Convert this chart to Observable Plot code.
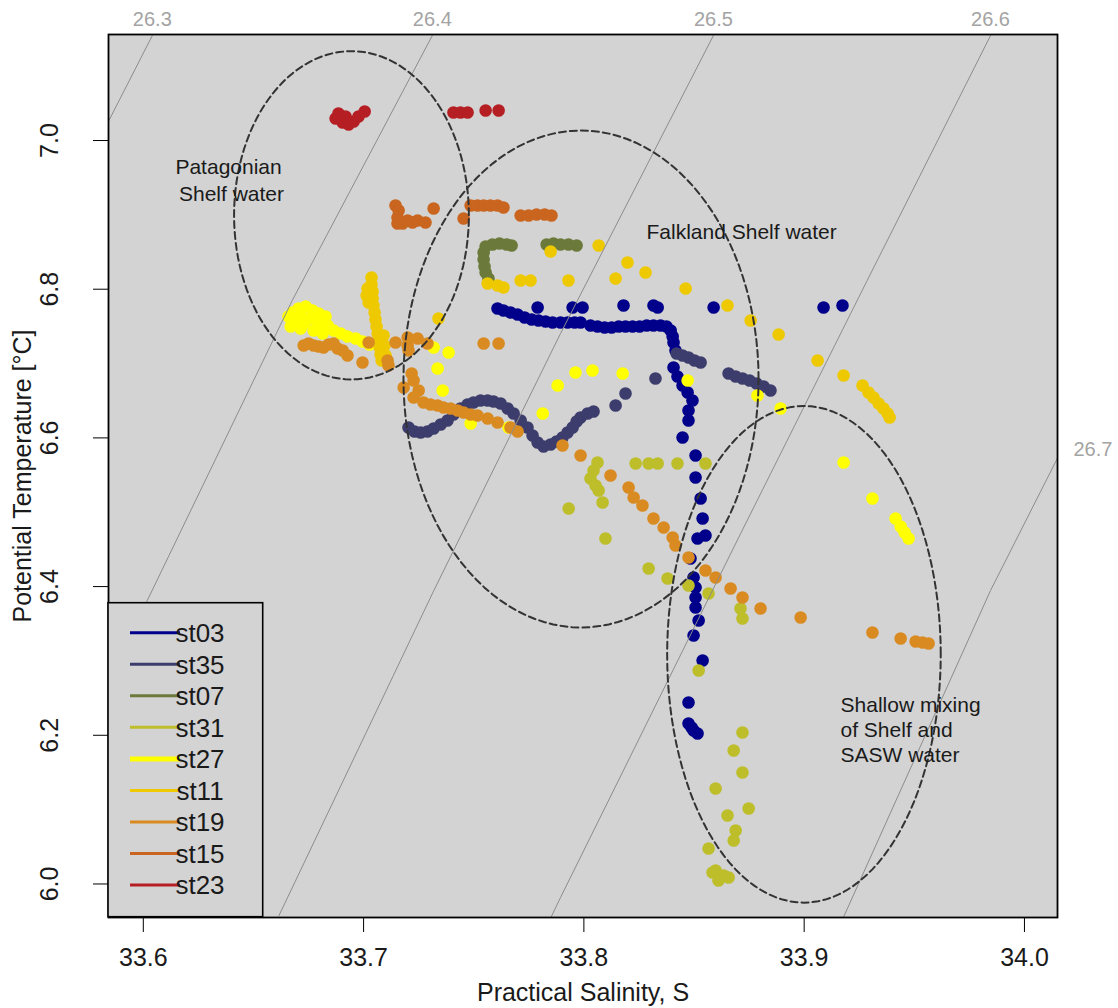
<!DOCTYPE html>
<html><head><meta charset="utf-8">
<script src="https://cdn.jsdelivr.net/npm/d3@7"></script>
<script src="https://cdn.jsdelivr.net/npm/@observablehq/plot@0.6"></script>
<style>
html,body{margin:0;padding:0;background:#fff;}
#chart{width:1118px;height:1008px;}
svg{font-family:"Liberation Sans",Arial,sans-serif;}
</style></head><body><div id="chart"></div>
<script>
// ---- station data (Practical Salinity S, Potential Temperature T) ----
const st03_S = [33.7608,33.7635,33.7667,33.7699,33.7731,33.7763,33.7794,33.7826,33.7858,33.7894,33.7926,33.7958,33.7985,33.8030,33.8062,33.8094,33.8126,33.8158,33.8189,33.8221,33.8253,33.8285,33.8316,33.8348,33.8375,33.8394,33.8403,33.8407,33.8416,33.8407,33.8425,33.8448,33.8471,33.8493,33.8475,33.8475,33.8448,33.8507,33.8507,33.8530,33.8539,33.8516,33.8552,33.8484,33.8498,33.8507,33.8507,33.8507,33.8521,33.8498,33.8539,33.8475,33.8475,33.8489,33.8498,33.8516,33.7790,33.7949,33.7994,33.8180,33.8316,33.8335,33.8589,33.9088,33.9174];
const st03_T = [6.7740,6.7714,6.7687,6.7660,6.7619,6.7592,6.7579,6.7566,6.7552,6.7552,6.7552,6.7552,6.7552,6.7512,6.7498,6.7485,6.7485,6.7498,6.7498,6.7498,6.7498,6.7512,6.7512,6.7512,6.7498,6.7445,6.7364,6.7283,6.7176,6.6947,6.6826,6.6705,6.6611,6.6503,6.6369,6.6234,6.6005,6.5763,6.5467,6.5185,6.4916,6.4647,6.4687,6.4378,6.4122,6.3988,6.3853,6.3719,6.3544,6.3342,6.3006,6.2441,6.2159,6.2105,6.2065,6.2024,6.7754,6.7754,6.7754,6.7781,6.7781,6.7754,6.7754,6.7754,6.7781];

const st35_S = [33.7204,33.7231,33.7259,33.7290,33.7318,33.7350,33.7381,33.7408,33.7440,33.7472,33.7499,33.7531,33.7563,33.7590,33.7622,33.7654,33.7681,33.7713,33.7744,33.7767,33.7790,33.7817,33.7849,33.7876,33.7903,33.7926,33.7949,33.7967,33.7985,33.8017,33.8044,33.8144,33.8189,33.8325,33.8421,33.8448,33.8475,33.8502,33.8530,33.8657,33.8689,33.8720,33.8752,33.8784,33.8816,33.8847];
const st35_T = [6.6140,6.6086,6.6073,6.6086,6.6127,6.6180,6.6234,6.6315,6.6395,6.6449,6.6476,6.6503,6.6503,6.6490,6.6463,6.6395,6.6328,6.6234,6.6140,6.6032,6.5938,6.5884,6.5911,6.5952,6.6005,6.6073,6.6140,6.6221,6.6274,6.6328,6.6355,6.6436,6.6597,6.6799,6.7135,6.7108,6.7081,6.7041,6.7014,6.6866,6.6826,6.6799,6.6772,6.6732,6.6691,6.6638];

const st07_S = [33.7554,33.7585,33.7617,33.7649,33.7672,33.7545,33.7545,33.7549,33.7554,33.7567,33.7831,33.7862,33.7894,33.7930,33.7967];
const st07_T = [6.8574,6.8601,6.8615,6.8601,6.8588,6.8494,6.8399,6.8305,6.8225,6.8144,6.8601,6.8615,6.8601,6.8601,6.8588];

const st31_S = [33.8235,33.8294,33.8335,33.8425,33.8552,33.8062,33.8044,33.8030,33.8053,33.8067,33.8085,33.7931,33.8098,33.8294,33.8380,33.8475,33.8566,33.8711,33.8720,33.8521,33.8720,33.8680,33.8720,33.8598,33.8748,33.8652,33.8689,33.8680,33.8566,33.8598,33.8634,33.8657,33.8611,33.8584];
const st31_T = [6.5656,6.5656,6.5656,6.5656,6.5656,6.5669,6.5562,6.5454,6.5360,6.5293,6.5131,6.5050,6.4647,6.4243,6.4109,6.4015,6.3907,6.3705,6.3571,6.2872,6.2038,6.1796,6.1500,6.1285,6.1015,6.0921,6.0720,6.0585,6.0477,6.0182,6.0114,6.0087,6.0047,6.0155];

const st27_S = [33.6659,33.6678,33.6705,33.6737,33.6768,33.6796,33.6827,33.6691,33.6728,33.6759,33.6796,33.6837,33.6864,33.6896,33.6927,33.6964,33.6995,33.7027,33.6714,33.6714,33.6773,33.6814,33.6669,33.7318,33.7386,33.7336,33.7359,33.7486,33.7658,33.7813,33.7881,33.7962,33.8039,33.8176,33.8471,33.8788,33.8893,33.9179,33.9310,33.9415,33.9438,33.9456,33.9474];
const st27_T = [6.7633,6.7687,6.7740,6.7767,6.7714,6.7673,6.7633,6.7566,6.7539,6.7606,6.7552,6.7512,6.7445,6.7404,6.7364,6.7337,6.7297,6.7256,6.7646,6.7471,6.7445,6.7404,6.7498,6.7216,6.7149,6.6933,6.6638,6.6194,6.6140,6.6328,6.6705,6.6880,6.6907,6.6866,6.6772,6.6570,6.6395,6.5669,6.5185,6.4916,6.4808,6.4728,6.4647];

const st11_S = [33.7036,33.7036,33.7041,33.7041,33.7045,33.7050,33.7054,33.7059,33.7064,33.7068,33.7073,33.7077,33.7082,33.7018,33.7023,33.7014,33.7091,33.7095,33.7100,33.7340,33.7563,33.7608,33.7635,33.7713,33.7758,33.7849,33.7930,33.8067,33.8144,33.8198,33.8280,33.8462,33.8652,33.8757,33.8884,33.9061,33.9179,33.9265,33.9292,33.9315,33.9338,33.9360,33.9379,33.9388];
const st11_T = [6.8157,6.8063,6.7969,6.7875,6.7781,6.7687,6.7592,6.7498,6.7404,6.7310,6.7216,6.7122,6.7041,6.8009,6.7821,6.7915,6.7377,6.7243,6.7108,6.7606,6.8077,6.8050,6.8023,6.8117,6.8117,6.8507,6.8117,6.8588,6.8144,6.8359,6.8225,6.8009,6.7781,6.7579,6.7391,6.7041,6.6839,6.6705,6.6611,6.6543,6.6463,6.6395,6.6328,6.6274];

const st19_S = [33.6728,33.6750,33.6773,33.6796,33.6818,33.6841,33.6864,33.6882,33.6905,33.6927,33.6995,33.7023,33.7109,33.7113,33.7145,33.7200,33.7200,33.7204,33.7245,33.7290,33.7545,33.7613,33.7218,33.7182,33.7227,33.7250,33.7227,33.7272,33.7304,33.7336,33.7363,33.7395,33.7427,33.7454,33.7486,33.7517,33.7563,33.7608,33.7667,33.7699,33.7903,33.7985,33.8121,33.8203,33.8226,33.8266,33.8316,33.8362,33.8403,33.8416,33.8475,33.8552,33.8598,33.8666,33.8720,33.8802,33.8984,33.9310,33.9438,33.9506,33.9537,33.9565];
const st19_T = [6.7243,6.7270,6.7243,6.7229,6.7216,6.7256,6.7270,6.7202,6.7176,6.7108,6.7014,6.7283,6.7041,6.6974,6.7283,6.7350,6.7243,6.7176,6.7337,6.7270,6.7270,6.7270,6.6866,6.6678,6.6772,6.6638,6.6543,6.6476,6.6449,6.6436,6.6409,6.6395,6.6369,6.6342,6.6315,6.6301,6.6261,6.6207,6.6140,6.6086,6.5898,6.5763,6.5494,6.5333,6.5198,6.5091,6.4916,6.4795,6.4660,6.4553,6.4391,6.4217,6.4122,6.3974,6.3853,6.3705,6.3584,6.3383,6.3302,6.3262,6.3248,6.3235];

const st15_S = [33.7145,33.7159,33.7154,33.7154,33.7177,33.7200,33.7222,33.7245,33.7281,33.7318,33.7454,33.7486,33.7517,33.7545,33.7576,33.7608,33.7635,33.7713,33.7749,33.7785,33.7822,33.7853];
const st15_T = [6.9126,6.9059,6.8964,6.8884,6.8884,6.8924,6.8897,6.8924,6.8897,6.9085,6.8951,6.9126,6.9126,6.9126,6.9126,6.9126,6.9099,6.8991,6.8991,6.9005,6.9005,6.8991];

const st23_S = [33.6886,33.6873,33.6905,33.6932,33.6955,33.6977,33.7005,33.6918,33.7408,33.7440,33.7472,33.7554,33.7613];
const st23_T = [7.0363,7.0296,7.0242,7.0215,7.0256,7.0323,7.0390,7.0323,7.0377,7.0377,7.0377,7.0403,7.0403];

const stations = ["st03","st35","st07","st31","st27","st11","st19","st15","st23"];
const stationColors = ["#00008B","#3D3D6D","#6B7A3A","#BDBE2A","#FFFF00","#EEC900","#D98B22","#C9651E","#B51F24"];
const stationS = [st03_S,st35_S,st07_S,st31_S,st27_S,st11_S,st19_S,st15_S,st23_S];
const stationT = [st03_T,st35_T,st07_T,st31_T,st27_T,st11_T,st19_T,st15_T,st23_T];

// ---- isopycnals (sigma-theta), points ----
const isoSigma = ["26.3","26.4","26.5","26.6","26.7"];
const iso_S = [[33.6041,33.5844],[33.7312,33.6676,33.6018,33.5844],[33.8588,33.7894,33.7319,33.6616],[33.9846,33.9286,33.8711,33.7894,33.7851],[34.0152,33.9846,33.9179]];
const iso_T = [[7.1412,7.0269],[7.1412,6.7848,6.3813,6.2737],[7.1412,6.7404,6.3948,5.9576],[7.1412,6.8117,6.4710,5.9818,5.9553],[6.5740,6.3948,5.9556]];

// ---- water mass ellipses ----
const ellName = ["Patagonian","Falkland","Shallow"];
const ellS = [33.6945,33.7987,33.8999];
const ellT = [6.8994,6.6792,6.3089];
const ellA = [0.0533,0.0806,0.0621];
const ellB = [0.2208,0.3342,0.3340];

// ---- annotations ----
const annoText = ["Patagonian\n Shelf water","Falkland Shelf water","Shallow mixing\nof Shelf and\nSASW water"];
const annoS = [33.6387,33.8716,33.9165];
const annoT = [6.9489,6.8790,6.2085];

const xTicks = [33.6,33.7,33.8,33.9,34.0];
const yTicks = [6.0,6.2,6.4,6.6,6.8,7.0];

// ---- build tables ----
const rows = stations.flatMap((name,i)=>stationS[i].map((s,j)=>({station:name,S:s,T:stationT[i][j]})));
const isoRows = isoSigma.flatMap((sg,i)=>iso_S[i].map((s,j)=>({sigma:sg,S:s,T:iso_T[i][j]})));
const isoTop = isoSigma.slice(0,4).map((sg,i)=>({sigma:sg,S:iso_S[i][0],T:iso_T[i][0]}));
const isoRight = [{sigma:isoSigma[4],S:iso_S[4][0],T:iso_T[4][0]}];
const ellRows = ellName.flatMap((n,i)=>d3.range(0,361,3).map(a=>({name:n,S:ellS[i]+ellA[i]*Math.cos(a*Math.PI/180),T:ellT[i]+ellB[i]*Math.sin(a*Math.PI/180)})));
const annos = annoText.map((t,i)=>({text:t,S:annoS[i],T:annoT[i]}));

const plot = Plot.plot({
  width:1118, height:1008,
  marginLeft:108, marginRight:61, marginTop:34, marginBottom:91,
  x:{domain:[33.5842,34.0150]},
  y:{domain:[5.9549,7.1426]},
  color:{domain:stations, range:stationColors},
  style:{fontFamily:"'Liberation Sans',Arial,sans-serif", color:"#1a1a1a", background:"#fff"},
  marks:[
    Plot.frame({fill:"#D3D3D3", stroke:null}),
    Plot.dot(rows,{x:"S",y:"T",fill:"station",r:6.3,stroke:null}),
    Plot.line(isoRows,{x:"S",y:"T",z:"sigma",stroke:"#8c8c8c",strokeWidth:1,clip:true}),
    Plot.line(ellRows,{x:"S",y:"T",z:"name",stroke:"#333",strokeWidth:2,strokeDasharray:"7,4",clip:true}),
    Plot.text(annos.slice(0,2),{x:"S",y:"T",text:"text",fontSize:21,lineHeight:1.28,textAnchor:"middle",fill:"#1a1a1a"}),
    Plot.text(annos.slice(2),{x:"S",y:"T",text:"text",fontSize:21,lineHeight:1.2,textAnchor:"start",fill:"#1a1a1a"}),
    Plot.text(isoTop,{x:"S",y:"T",text:"sigma",dy:-16,fontSize:20,fill:"#a3a3a3"}),
    Plot.text(isoRight,{x:"S",y:"T",text:"sigma",dx:35,dy:-8,fontSize:20,fill:"#a3a3a3"}),
    Plot.frame({stroke:"#000",strokeWidth:1.8}),
    Plot.axisX({ticks:xTicks,tickSize:15,tickPadding:16,fontSize:25,tickFormat:d3.format(".1f"),label:null,stroke:"#000"}),
    Plot.axisY({ticks:yTicks,tickSize:15,tickFormat:()=>"",label:null,stroke:"#000"}),
    Plot.text(yTicks,{y:d=>d,text:d=>d.toFixed(1),frameAnchor:"left",dx:-59,rotate:-90,textAnchor:"middle",lineAnchor:"middle",fontSize:25,fill:"#1a1a1a"}),
    Plot.text(["Practical Salinity, S"],{frameAnchor:"bottom",dy:83,lineAnchor:"bottom",textAnchor:"middle",fontSize:25,fill:"#1a1a1a"}),
    Plot.text(["Potential Temperature [\u00B0C]"],{frameAnchor:"left",dx:-86,rotate:-90,textAnchor:"middle",lineAnchor:"middle",fontSize:25,fill:"#1a1a1a"})
  ]
});
document.getElementById("chart").appendChild(plot);

// ---- legend box (bottom-left inside plot) ----
const svg = d3.select(plot);
const lg = svg.append("g");
lg.append("rect").attr("x",108).attr("y",602.7).attr("width",154.7).attr("height",314)
  .attr("fill","#D3D3D3").attr("stroke","#000").attr("stroke-width",1.6);
stations.forEach((name,i)=>{
  const y = 632.7 + i*31.55;
  lg.append("line").attr("x1",130).attr("x2",180).attr("y1",y).attr("y2",y)
    .attr("stroke",stationColors[i]).attr("stroke-width",name==="st27"?5:3);
  lg.append("text").attr("x",200).attr("y",y).attr("dy","0.36em").attr("font-size",26)
    .attr("fill","#1a1a1a").text(name);
});
</script>
</body></html>
